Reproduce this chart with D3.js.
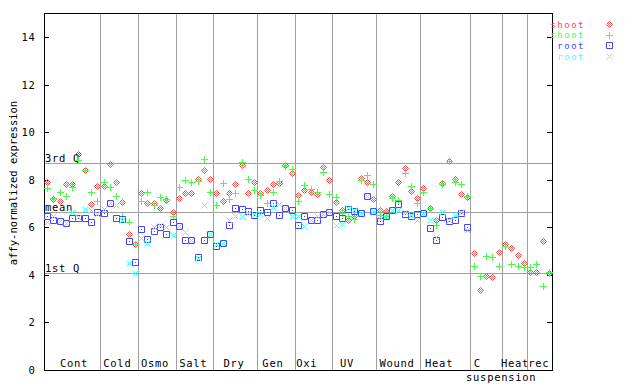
<!DOCTYPE html>
<html><head><meta charset="utf-8">
<script src="https://cdn.jsdelivr.net/npm/d3@7"></script>
<style>
html,body{margin:0;padding:0;background:#fff;}
text{font-family:"DejaVu Sans Mono",monospace;}
</style></head>
<body><svg id="c" width="640" height="384"></svg>
<script>
// ---- data ----
const groups = ["Cont","Cold","Osmo","Salt","Dry","Gen","Oxi","UV","Wound","Heat","C","Heat","rec"];
const groupSizes = [9,6,6,6,7,6,6,7,7,8,5,4,4];
const groupLabelAt = [4.78,11.7,17.7,23.8,30.3,36.5,41.9,48.3,56.3,63.0,69.1,75.1,78.9];
const subLabels = ["suspension"];
const subLabelAt = [72.9];
const seriesNames = ["shoot","shoot","root","root"];
const shootA = [
7.90,7.19,7.10,7.80,7.80,9.08,8.40,6.96,7.72,
7.72,8.65,7.90,7.05,5.70,5.30,
7.43,7.02,7.01,6.80,7.14,6.64,
7.21,7.42,7.42,8.01,8.40,8.01,
7.42,7.12,7.42,7.80,8.62,7.45,7.88,
7.42,7.55,7.80,7.85,8.62,8.28,
7.36,7.55,7.49,7.38,8.52,7.97,
7.07,6.70,6.29,6.47,8.07,7.90,7.18,
6.71,6.68,7.30,7.90,8.48,7.52,7.22,
7.63,6.80,6.30,7.85,8.78,8.02,7.38,7.27,
4.89,3.33,3.93,3.88,4.93,
5.28,5.10,4.81,4.48,
4.09,4.09,5.40,4.07];
const shootB = [
7.63,7.22,7.47,7.30,7.67,8.84,8.40,7.46,7.12,
7.91,7.68,7.31,6.47,6.21,5.30,
7.12,7.47,6.95,7.25,7.17,6.46,
7.71,7.98,7.89,7.95,8.85,7.49,
6.92,7.85,7.19,7.42,8.73,8.02,7.56,
7.36,7.01,7.50,7.93,8.59,8.45,
7.10,7.77,7.60,7.46,8.31,7.38,
7.25,6.60,6.47,6.33,7.97,8.18,7.80,
6.50,6.48,7.22,7.14,8.27,7.72,7.00,
7.50,6.80,6.10,7.80,8.78,7.89,7.80,7.33,
4.38,3.93,4.80,4.76,4.35,
5.22,4.43,4.38,4.32,
4.32,4.43,3.50,4.12];
const rootA = [
6.46,6.29,6.25,6.17,6.37,6.40,6.37,6.20,6.62,
6.58,7.00,6.37,6.33,5.41,4.51,
5.90,5.49,5.83,6.00,5.73,6.20,
6.03,5.44,5.44,4.76,5.44,5.72,
5.19,5.35,6.08,6.79,6.75,6.66,6.52,
6.72,6.63,7.00,6.53,6.79,6.72,
6.08,6.46,6.28,6.28,6.56,6.65,
6.46,6.37,6.76,6.68,6.59,7.32,6.67,
6.24,6.46,6.72,6.96,6.54,6.46,6.54,
6.58,5.95,5.45,6.42,6.26,6.29,6.60,5.99,
null,null,null,null,null,null,null,null,null,null,null,null,null];
const rootB = [
6.21,6.47,6.25,6.18,6.62,6.42,6.76,6.74,6.56,
6.75,7.00,6.92,6.30,4.47,4.05,
5.52,5.31,6.00,6.10,6.01,5.65,
6.03,5.80,5.44,4.68,6.92,5.72,
5.30,5.35,6.30,6.45,6.45,6.58,6.54,
6.54,6.37,6.84,6.98,6.79,6.47,
6.46,6.03,6.28,6.46,6.56,6.65,
6.07,6.15,6.82,6.72,6.59,7.32,6.67,
6.34,6.46,6.72,6.72,6.65,6.51,6.28,
6.58,6.30,5.57,6.64,6.28,6.50,6.63,5.88,
null,null,null,null,null,null,null,null,null,null,null,null,null];
const refNames = ["3rd Q","mean","1st Q"];
const refValues = [8.69,6.62,4.07];
const yTicks = [0,2,4,6,8,10,12,14];

// ---- chart ----
const svg = d3.select("#c");
const N = groupSizes.reduce((a,b)=>a+b,0);
const x = d3.scaleLinear().domain([0,N]).range([44,552]);
const y = d3.scaleLinear().domain([0,15]).range([369.5,13.5]);
const px = v => Math.round(v)+0.5;
const colors = ["#ff4444","#44ff44","#4444ff","#44ffff"];
const grey = "#a0a0a0";
const FS = "10.5px", LS = "0.7px";

// group separators
let starts = [0]; groupSizes.forEach((s,i)=>{ if(i<groupSizes.length-1) starts.push(starts[i]+s); });
svg.append("g").selectAll("line").data(starts.slice(1)).join("line")
  .attr("x1",d=>px(x(d))).attr("x2",d=>px(x(d)))
  .attr("y1",y(15)).attr("y2",y(0))
  .attr("stroke",grey).attr("stroke-width",1).attr("shape-rendering","crispEdges");

// reference lines
svg.append("g").selectAll("line").data(refValues).join("line")
  .attr("x1",x(0)).attr("x2",x(N))
  .attr("y1",d=>px(y(d))).attr("y2",d=>px(y(d)))
  .attr("stroke",grey).attr("stroke-width",1).attr("shape-rendering","crispEdges");
svg.append("g").selectAll("text").data(refNames).join("text")
  .attr("x",x(0)+1).attr("y",(d,i)=>Math.round(y(refValues[i]))-1.5)
  .attr("font-size",FS).attr("letter-spacing",LS).attr("fill","#000").text(d=>d);

// frame
svg.append("rect").attr("x",px(x(0))).attr("y",px(y(15))-1)
  .attr("width",Math.round(x(N))-Math.round(x(0))).attr("height",Math.round(y(0))-Math.round(y(15))+1)
  .attr("fill","none").attr("stroke","#000").attr("shape-rendering","crispEdges");

// y ticks
const yt = svg.append("g");
yt.selectAll("line.l").data(yTicks).join("line").attr("class","l")
  .attr("x1",x(0)).attr("x2",x(0)+5).attr("y1",d=>px(y(d))).attr("y2",d=>px(y(d)))
  .attr("stroke","#000").attr("shape-rendering","crispEdges");
yt.selectAll("line.r").data(yTicks).join("line").attr("class","r")
  .attr("x1",x(N)-5).attr("x2",x(N)).attr("y1",d=>px(y(d))).attr("y2",d=>px(y(d)))
  .attr("stroke","#000").attr("shape-rendering","crispEdges");
yt.selectAll("text").data(yTicks).join("text")
  .attr("x",35.5).attr("y",d=>y(d)+4).attr("text-anchor","end")
  .attr("font-size",FS).attr("letter-spacing",LS).text(d=>d);

// axis title
svg.append("text").attr("transform","translate(17,183) rotate(-90)")
  .attr("text-anchor","middle").attr("font-size","10.5px").text("affy-normalized expression");

// x group labels
svg.append("g").selectAll("text").data(groups).join("text")
  .attr("x",(d,i)=>x(groupLabelAt[i])).attr("y",367).attr("text-anchor","middle")
  .attr("font-size",FS).attr("letter-spacing",LS).text(d=>d);
svg.append("g").selectAll("text").data(subLabels).join("text")
  .attr("x",(d,i)=>x(subLabelAt[i])).attr("y",381).attr("text-anchor","middle")
  .attr("font-size",FS).attr("letter-spacing",LS).text(d=>d);

// markers
const shapes = [
  g=>{ g.append("path").attr("d","M0,-3L3,0L0,3L-3,0Z").attr("fill","none").attr("stroke-width",1);
       g.append("path").attr("d","M0,-1L1,0L0,1L-1,0Z").attr("fill","none").attr("stroke-width",1); },
  g=>{ g.append("path").attr("d","M-3.5,0H3.5M0,-3.5V3.5").attr("stroke-width",1); },
  g=>{ g.append("path").attr("d","M-3,-3H3V3H-3Z").attr("fill","none").attr("stroke-width",1);
       g.append("rect").attr("x",-0.5).attr("y",-0.5).attr("width",1).attr("height",1).attr("stroke","none"); },
  g=>{ g.append("path").attr("d","M-3,-3L3,3M3,-3L-3,3").attr("stroke-width",1); }
];
const series = [shootA, shootB, rootA, rootB];
series.forEach((vals,si)=>{
  const g = svg.append("g").attr("stroke",colors[si]).attr("fill",colors[si]);
  vals.forEach((v,i)=>{
    if(v==null) return;
    const m = g.append("g").attr("transform",`translate(${px(x(i+0.5))},${px(y(v))})`);
    shapes[si](m);
  });
});

// legend
const legY = [24,34.7,45.3,56];
seriesNames.forEach((n,i)=>{
  svg.append("text").attr("x",585).attr("y",legY[i]+3.5).attr("text-anchor","end")
    .attr("font-size","9px").attr("letter-spacing","1.5px").attr("fill",colors[i]).text(n);
  const m = svg.append("g").attr("stroke",colors[i]).attr("fill",colors[i])
    .attr("transform",`translate(609.5,${Math.round(legY[i])+0.5})`);
  shapes[i](m);
});
</script></body></html>
